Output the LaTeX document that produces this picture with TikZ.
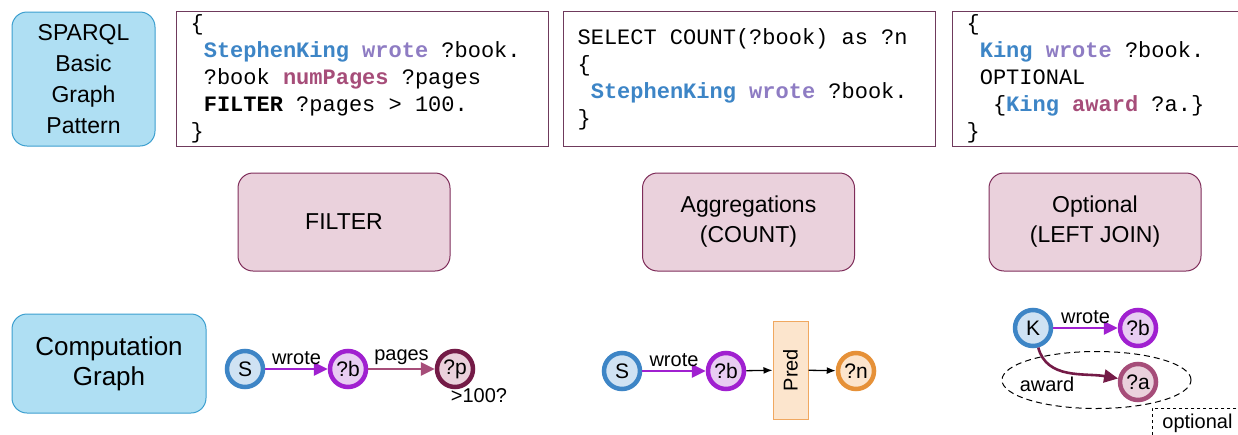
\documentclass[tikz,border=0pt]{standalone}
\usepackage{fontspec}
\setmainfont{Liberation Sans}
\newfontfamily\codefont{Liberation Mono}
\usetikzlibrary{arrows.meta,positioning,shapes.geometric}
\usepackage{xcolor}
\definecolor{headfill}{HTML}{AFDFF3}
\definecolor{headedge}{HTML}{3C9FCF}
\definecolor{opfill}{HTML}{EAD1DC}
\definecolor{opedge}{HTML}{7F2D5A}
\definecolor{codeedge}{HTML}{6F3A5C}
\definecolor{qblue}{HTML}{3D85C6}
\definecolor{qpurple}{HTML}{8E7CC3}
\definecolor{qpink}{HTML}{A64D79}
\definecolor{vblue}{HTML}{3D85C6}
\definecolor{vbluefill}{HTML}{CFE2F3}
\definecolor{vpurple}{HTML}{A020D0}
\definecolor{vpurplefill}{HTML}{E8CDF2}
\definecolor{vdark}{HTML}{741B47}
\definecolor{vpink}{HTML}{A64D79}
\definecolor{vpinkfill}{HTML}{EAD1DC}
\definecolor{vorange}{HTML}{E69138}
\definecolor{vorangefill}{HTML}{FCE5CD}
\definecolor{prededge}{HTML}{F0A860}
\newcommand{\codespace}{\spaceskip=13.2pt\relax}

\begin{document}
\begin{tikzpicture}[x=1pt,y=-1pt,
    headbox/.style={draw=headedge,fill=headfill,line width=1pt,rounded corners=15pt,
      align=center,font=\fontsize{23}{31}\selectfont},
    opbox/.style={draw=opedge,fill=opfill,line width=1pt,rounded corners=15pt,
      align=center,minimum width=212pt,minimum height=98pt,
      font=\fontsize{23}{30}\selectfont},
    codebox/.style={draw=codeedge,line width=1.2pt,anchor=north west,inner xsep=14pt,
      minimum height=135pt,align=left,font=\codefont\fontsize{22}{27}\selectfont},
    var/.style={circle,line width=4.5pt,minimum size=36pt,inner sep=0pt,
      font=\fontsize{21}{21}\selectfont},
    elabel/.style={font=\fontsize{20}{20}\selectfont},
    edge/.style={line width=2.6pt,-{Triangle[length=14pt,width=13pt]}},
    thinedge/.style={line width=1.3pt,-{Latex[length=9pt,width=7pt]}}]
  \useasboundingbox (0,0) rectangle (1238,434);

  \node[headbox,minimum width=143pt,minimum height=134pt] (sparql) at (83.5,79)
    {SPARQL\\Basic\\Graph\\Pattern};
  \node[codebox,minimum width=372pt,text width=344pt] (qfilter) at (176,11)
    {\codespace\{\\
     \hphantom{x}\textbf{\textcolor{qblue}{StephenKing} \textcolor{qpurple}{wrote}} ?book.\\
     \hphantom{x}?book \textbf{\textcolor{qpink}{numPages}} ?pages\\
     \hphantom{x}\textbf{FILTER} ?pages > 100.\\
     \}};
  \node[codebox,minimum width=372pt,text width=344pt] (qcount) at (563,11)
    {\codespace SELECT COUNT(?book) as ?n\\
     \{\\
     \hphantom{x}\textbf{\textcolor{qblue}{StephenKing} \textcolor{qpurple}{wrote}} ?book.\\
     \}};
  \node[codebox,minimum width=290pt,text width=262pt] (qopt) at (952,11)
    {\codespace\{\\
     \hphantom{x}\textbf{\textcolor{qblue}{King} \textcolor{qpurple}{wrote}} ?book.\\
     \hphantom{x}OPTIONAL\\
     \hphantom{xx}\{\textbf{\textcolor{qblue}{King} \textcolor{qpink}{award}} ?a.\}\\
     \}};

  \node[opbox] (filter) at (344,222) {FILTER};
  \node[opbox] (agg) at (748.5,222) {Aggregations\\(COUNT)};
  \node[opbox] (optional) at (1095,222) {Optional\\(LEFT JOIN)};

  \node[headbox,minimum width=194pt,minimum height=99pt,
        font=\fontsize{26}{30}\selectfont] (cgraph) at (109,363.5) {Computation\\Graph};

  % filter graph
  \node[var,draw=vblue,fill=vbluefill] (s1) at (245,369) {S};
  \node[var,draw=vpurple,fill=vpurplefill] (b1) at (348,369) {?b};
  \node[var,draw=vdark,fill=vpinkfill] (p1) at (455,369) {?p};
  \draw[edge,vpurple] (s1) -- node[elabel,above,text=black] {wrote} (b1);
  \draw[edge,vpink] (b1) -- node[elabel,above,text=black] {pages} (p1);
  \node[elabel] (gt) at (479,396) {>100?};

  % count graph
  \node[var,draw=vblue,fill=vbluefill] (s2) at (622,371) {S};
  \node[var,draw=vpurple,fill=vpurplefill] (b2) at (726,371) {?b};
  \node[draw=prededge,fill=vorangefill,line width=1pt,rotate=90,
        minimum width=98pt,minimum height=35pt,elabel] (pred) at (790.5,370) {Pred};
  \node[var,draw=vorange,fill=vorangefill] (n2) at (856,371) {?n};
  \draw[edge,vpurple] (s2) -- node[elabel,above,text=black] {wrote} (b2);
  \draw[thinedge] (b2) -- (pred);
  \draw[thinedge] (pred) -- (n2);

  % optional graph
  \node[draw,dashed,dash pattern=on 6pt off 4pt,line width=1pt,ellipse,
        minimum width=189pt,minimum height=57pt] (optarea) at (1096.5,380) {};
  \node[var,draw=vblue,fill=vbluefill] (k3) at (1033,328) {K};
  \node[var,draw=vpurple,fill=vpurplefill] (b3) at (1138,328) {?b};
  \node[var,draw=vpink,fill=vpinkfill] (a3) at (1138,382) {?a};
  \draw[edge,vpurple] (k3) -- node[elabel,above,text=black] {wrote} (b3);
  \draw[edge,vdark] (k3) to[out=-75,in=170] (a3);
  \node[elabel] (award) at (1047,384) {award};
  \node[draw,dashed,line width=0.9pt,anchor=north west,minimum width=90pt,
        minimum height=30pt,elabel] (optlbl) at (1152,408) {optional};
\end{tikzpicture}
\end{document}
